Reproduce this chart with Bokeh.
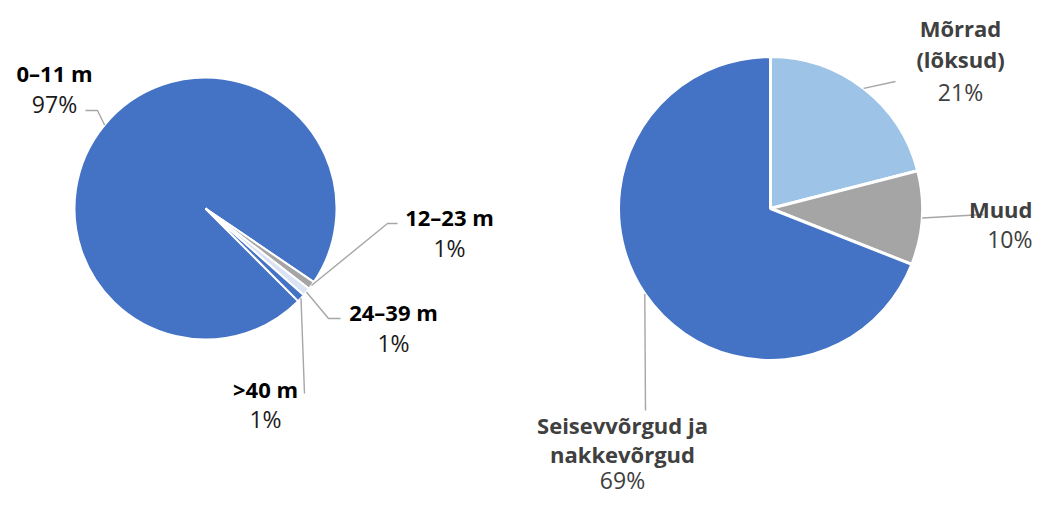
import numpy as np
from bokeh.plotting import figure
from bokeh.models import Range1d
from bokeh.core.properties import value
from bokeh.embed import file_html
from bokeh.resources import INLINE

# ---------------- data ----------------
left_labels = ["0–11 m", "12–23 m", "24–39 m", ">40 m"]
left_values = [97, 1, 1, 1]
left_colors = ["#4472C4", "#A5A5A5", "#DAE3F3", "#4472C4"]

right_labels = ["Mõrrad\n(lõksud)", "Muud", "Seisevvõrgud ja\nnakkevõrgud"]
right_values = [21, 10, 69]
right_colors = ["#9DC3E6", "#A5A5A5", "#4472C4"]

# ---------------- layout ----------------
W, H = 1034, 498
def X(sx):
    return sx
def Y(sy):
    return H - sy

FONT = "Open Sans"
LINE_COLOR = "#A6A6A6"

p = figure(width=W, height=H, x_range=Range1d(0, W), y_range=Range1d(0, H),
           output_backend="svg", toolbar_location=None, min_border=0,
           x_axis_location=None, y_axis_location=None)
p.grid.visible = False
p.outline_line_color = None
p.background_fill_color = "white"


def pie(cx, cy, r, vals, colors, start_deg, border):
    vals = np.asarray(vals, dtype=float)
    frac = vals / vals.sum() * 360.0
    cum_end = np.cumsum(frac)
    cum_start = cum_end - frac
    starts = np.radians(start_deg - cum_end)
    ends = np.radians(start_deg - cum_start)
    p.wedge(x=[X(cx)] * len(vals), y=[Y(cy)] * len(vals), radius=r,
            start_angle=list(starts), end_angle=list(ends),
            fill_color=colors, line_color="white", line_width=border)
    mids = (starts + ends) / 2
    return [(X(cx) + r * np.cos(m), Y(cy) + r * np.sin(m)) for m in mids]


def leader(anchor, pts):
    xs = [anchor[0]] + [X(a) for a, b in pts]
    ys = [anchor[1]] + [Y(b) for a, b in pts]
    p.line(xs, ys, line_color=LINE_COLOR, line_width=1.4)


def label(cx, lines_y, name, pct, color, pct_color, align="center"):
    names = name.split("\n")
    for t, yy in zip(names, lines_y[:-1]):
        p.text(x=[X(cx)], y=[Y(yy)], text=[t], text_font=value(FONT),
               text_font_style="bold", text_font_size="22px",
               text_align=align, text_baseline="middle", text_color=color)
    p.text(x=[X(cx)], y=[Y(lines_y[-1])], text=[pct], text_font=value(FONT),
           text_font_size="23px", text_align=align,
           text_baseline="middle", text_color=pct_color)


# left pie
la = pie(205, 208, 131, left_values, left_colors, -45, 2)
left_pct = [f"{round(v / sum(left_values) * 100)}%" for v in left_values]
left_pos = [(54, [72, 103]), (449, [216, 247]), (393, [311, 342]), (265, [388, 418])]
left_lead = [[(97, 110), (85, 110)], [(387, 223), (397, 223)],
             [(328, 318), (340, 318)], [(304, 393)]]
for i in range(len(left_values)):
    leader(la[i], left_lead[i])
    label(left_pos[i][0], left_pos[i][1], left_labels[i], left_pct[i], "#000000", "#1a1a1a")

# right pie
ra = pie(770, 208, 152, right_values, right_colors, 90, 3)
right_pct = [f"{round(v / sum(right_values) * 100)}%" for v in right_values]
right_pos = [(960, [27, 58, 91], "center"), (1032, [208, 238], "right"),
             (622, [424, 453, 479], "center")]
right_lead = [[(895, 81)], [(983, 214)], [(645, 410)]]
for i in range(len(right_values)):
    leader(ra[i], right_lead[i])
    label(right_pos[i][0], right_pos[i][1], right_labels[i], right_pct[i],
          "#404040", "#404040", right_pos[i][2])

open("out.html", "w").write(file_html(p, INLINE))
